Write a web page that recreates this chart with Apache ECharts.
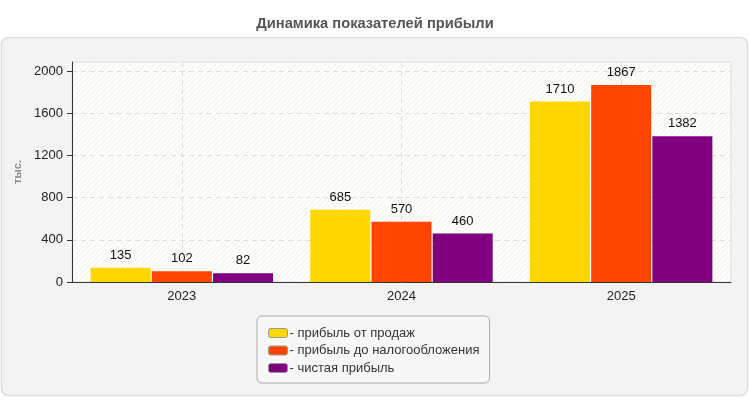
<!DOCTYPE html>
<html>
<head>
<meta charset="utf-8">
<script src="https://cdn.jsdelivr.net/npm/echarts@6/dist/echarts.min.js"></script>
<style>
  html, body { margin: 0; padding: 0; background: #fff; }
  #chart { width: 750px; height: 400px; }
</style>
</head>
<body>
<div id="chart"></div>
<script>
// данные
const years = ["2023", "2024", "2025"];
const salesProfit = [135, 685, 1710];
const pretaxProfit = [102, 570, 1867];
const netProfit = [82, 460, 1382];
const yTicks = [0, 400, 800, 1200, 1600, 2000];
const seriesNames = ["прибыль от продаж", "прибыль до налогообложения", "чистая прибыль"];
const seriesColors = ["#FFD700", "#FF4500", "#800080"];

// штриховка фона
function hatch() {
  const c = document.createElement("canvas");
  c.width = 5;
  c.height = 5;
  const ctx = c.getContext("2d");
  ctx.fillStyle = "#fdfdf9";
  ctx.fillRect(0, 0, 5, 5);
  ctx.strokeStyle = "#efefec";
  ctx.lineWidth = 1;
  ctx.beginPath();
  ctx.moveTo(-1, 6);
  ctx.lineTo(6, -1);
  ctx.stroke();
  return c;
}

const chart = echarts.init(document.getElementById("chart"));
const font = "'Liberation Sans', Arial, sans-serif";

function barSeries(i, data) {
  return {
    name: seriesNames[i],
    type: "bar",
    data: data,
    barWidth: 60,
    barGap: "2%",
    itemStyle: { color: seriesColors[i] },
    label: {
      show: true,
      position: "top",
      distance: 6,
      color: "#111",
      fontSize: 13,
      fontFamily: font,
    },
  };
}

chart.setOption({
  animation: false,
  textStyle: { fontFamily: font },
  title: {
    text: "Динамика показателей прибыли",
    left: "center",
    top: 11,
    textStyle: { fontSize: 14.7, fontWeight: "bold", color: "#555", fontFamily: font },
  },
  graphic: [
    {
      type: "rect",
      z: -10,
      shape: { x: 1.5, y: 37.5, width: 746, height: 358, r: 7 },
      style: { fill: "#f3f3f3", stroke: "#dddddd", lineWidth: 1.5 },
    },
  ],
  grid: {
    left: 72,
    right: 19,
    top: 62,
    bottom: 118,
    show: true,
    borderColor: "#dddddd",
    borderWidth: 1,
    backgroundColor: { image: hatch(), repeat: "repeat" },
  },
  legend: {
    orient: "vertical",
    left: 257,
    top: 316,
    padding: [10, 10, 8, 11],
    backgroundColor: "#f7f7f7",
    borderColor: "#aaaaaa",
    borderWidth: 1,
    borderRadius: 5,
    itemWidth: 19,
    itemHeight: 9,
    itemGap: 3.5,
    icon: "roundRect",
    itemStyle: { borderColor: "#999", borderWidth: 1 },
    formatter: "- {name}",
    textStyle: { fontSize: 13, lineHeight: 14, color: "#333", fontFamily: font, padding: [0, 0, 0, -3] },
    data: seriesNames,
  },
  xAxis: {
    type: "category",
    data: years,
    axisLine: { lineStyle: { color: "#333" } },
    axisTick: { alignWithLabel: true, length: 5, lineStyle: { color: "#333" } },
    axisLabel: { color: "#222", fontSize: 13, margin: 8 },
    splitLine: { show: true, alignWithLabel: true, lineStyle: { color: "#dddddd", type: [5, 4] } },
  },
  yAxis: {
    type: "value",
    min: 0,
    max: 2085,
    name: "тыс.",
    nameLocation: "middle",
    nameGap: 48,
    nameTextStyle: { color: "#888", fontWeight: "bold", fontSize: 11 },
    axisLine: { show: true, lineStyle: { color: "#333" } },
    axisTick: { show: true, length: 5, customValues: yTicks, lineStyle: { color: "#333" } },
    axisLabel: { color: "#222", fontSize: 13, margin: 9, customValues: yTicks, formatter: (v) => String(v) },
    splitLine: { lineStyle: { color: "#dddddd", type: [5, 4] } },
  },
  series: [
    barSeries(0, salesProfit),
    barSeries(1, pretaxProfit),
    barSeries(2, netProfit),
  ],
});
</script>
</body>
</html>
